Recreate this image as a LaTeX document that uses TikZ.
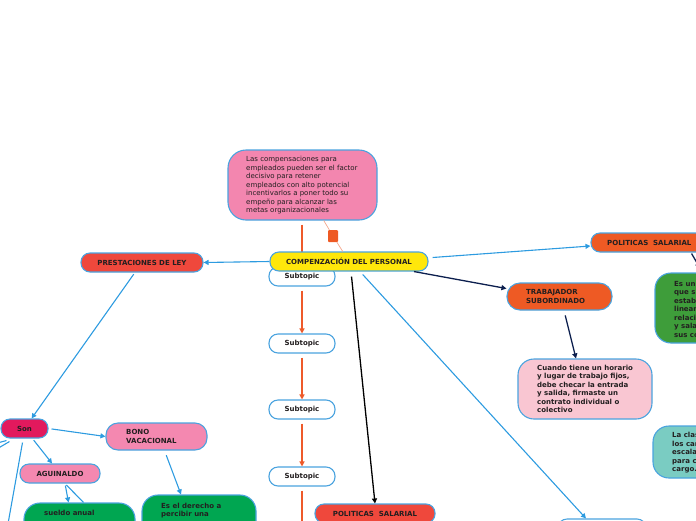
\documentclass[tikz,border=0pt]{standalone}
\usepackage{fontspec}
\setmainfont{DejaVu Sans}
\usetikzlibrary{arrows.meta,calc}
\definecolor{bdr}{HTML}{4AA3DF}
\definecolor{cblue}{HTML}{2D9BE0}
\definecolor{cnavy}{HTML}{0C1F4E}
\definecolor{corl}{HTML}{EE5A2A}
\definecolor{salm}{HTML}{F4A58A}
\definecolor{notepink}{HTML}{F386AF}
\definecolor{cyellow}{HTML}{FFE70B}
\definecolor{cred}{HTML}{EF483C}
\definecolor{crimson}{HTML}{E2195D}
\definecolor{bpink}{HTML}{F488B0}
\definecolor{corange}{HTML}{EE5A24}
\definecolor{cgreen}{HTML}{00A651}
\definecolor{dgreen}{HTML}{3E9D3A}
\definecolor{cteal}{HTML}{7ACCC2}
\definecolor{lpink}{HTML}{F9C6D2}
\definecolor{txt}{HTML}{231F20}
\tikzset{
  box/.style={draw=bdr, line width=1.1pt, rounded corners=#1, inner sep=0pt, text=txt},
  box/.default=9,
  ft/.style={font=\fontsize{7}{8.5}\selectfont},
  bft/.style={font=\fontsize{7}{8.5}\selectfont\bfseries},
  tx/.style={anchor=west, align=left, inner sep=0pt, text=txt},
  barr/.style={draw=cblue, line width=1.1pt, -{Triangle[length=5pt,width=5pt]}},
  bline/.style={draw=cblue, line width=1.1pt},
  narr/.style={draw=cnavy, line width=1.3pt, -{Triangle[length=5pt,width=5pt]}},
  karr/.style={draw=black, line width=1.3pt, -{Triangle[length=5pt,width=5pt]}},
  oarr/.style={draw=corl, line width=1.4pt, -{Triangle[length=5pt,width=5pt]}},
  oline/.style={draw=corl, line width=1.4pt},
  sline/.style={draw=salm, line width=0.7pt},
}
\begin{document}
\begin{tikzpicture}[x=1pt,y=-1pt]
\useasboundingbox (0,0) rectangle (696,520);
\clip (0,0) rectangle (696,520);

% top note
\node[box=18, fill=notepink, minimum width=149, minimum height=70] (note) at (302.5,185) {};
\node[tx, ft] (notet) at (246,185.5) {Las compensaciones para\\empleados pueden ser el factor\\decisivo para retener\\empleados con alto potencial\\incentivarlos a poner todo su\\empeño para alcanzar las\\metas organizacionales};
\node[fill=corange, minimum width=10, minimum height=12, inner sep=0pt, rounded corners=1pt] (sqr) at (333,236) {};

% subtopics
\foreach \i/\yy in {1/276.5,2/343.5,3/409.5,4/476.5}
  \node[box=9, fill=white, minimum width=66, minimum height=19, bft] (sub\i) at (302,\yy) {Subtopic};
\coordinate (oend) at (302,535);
\draw[oline, shorten <=4pt] (sub1.north |- note.south) -- (sub1.north);
\draw[oarr, shorten <=4pt] (sub1.south) -- (sub2.north);
\draw[oarr, shorten <=4pt] (sub2.south) -- (sub3.north);
\draw[oarr, shorten <=4pt] (sub3.south) -- (sub4.north);
\draw[oline, shorten <=4pt] (sub4.south) -- (oend);

% central
\node[box=9, fill=cyellow, minimum width=158, minimum height=19, bft] (central) at (349,261.5) {COMPENZACIÓN DEL PERSONAL};
\draw[sline] (note) -- (sqr) -- (central);

% left branch
\node[box=9, fill=cred, minimum width=122, minimum height=19, bft] (prest) at (142,262.5) {PRESTACIONES DE LEY};
\node[box=9, fill=crimson, minimum width=47, minimum height=19, bft] (son) at (24.5,428.5) {Son};
\node[box=12, fill=bpink, minimum width=101, minimum height=27] (bono) at (156.5,436.5) {};
\node[tx, bft] (bonot) at (126,436.5) {BONO\\VACACIONAL};
\node[box=9, fill=bpink, minimum width=80, minimum height=19, bft] (agui) at (60,473.5) {AGUINALDO};
\node[box=16, fill=cgreen, minimum width=111, minimum height=60] (g1) at (79.5,533) {};
\node[tx, bft] (g1t) at (44,513) {sueldo anual};
\node[box=16, fill=cgreen, minimum width=114, minimum height=60] (g2) at (199,525) {};
\node[tx, bft] (g2t) at (161,510.5) {Es el derecho a\\percibir una};

\coordinate (sl1) at (-10,453);
\coordinate (sl2) at (-14,446);
\coordinate (sl3) at (6,535);

\draw[barr] (central.west) -- (prest.east);
\draw[barr, shorten <=2pt] (prest) -- (son);
\draw[barr, shorten <=3pt] (son.east) -- (bono.west);
\draw[barr, shorten <=2pt] (son) -- (agui);
\draw[barr, shorten <=2pt] ($(agui.south)+(5,0)$) -- ($(g1.north)+(-11,0)$);
\draw[bline, shorten <=2pt] ($(agui.south)+(5,0)$) -- ($(g1.north)+(4,0)$);
\draw[barr, shorten <=5pt] ($(bono.south)+(8,0)$) -- ($(g2.north)+(-18,0)$);
\draw[bline] ($(son.south west)+(9,3)$) -- (sl1);
\draw[bline] ($(son.south west)+(6,2)$) -- (sl2);
\draw[bline] ($(son.south)+(-2,4)$) -- (sl3);

% right branch
\node[box=9, fill=corange, minimum width=119, minimum height=19] (polr) at (650.5,242.5) {};
\node[tx, bft] (polrt) at (607,242.5) {POLITICAS\ \ SALARIAL};
\node[box=16, fill=dgreen, minimum width=70, minimum height=70] (gr) at (690,308) {};
\node[tx, bft] (grt) at (674,309) {Es un documento\\que sirve para\\establecer los\\lineamientos de\\relación laboral\\y salarial con\\sus colaboradores};
\node[box=13, fill=corange, minimum width=105, minimum height=27] (trab) at (559.5,296.5) {};
\node[tx, bft] (trabt) at (526,296.5) {TRABAJADOR\\SUBORDINADO};
\node[box=16, fill=lpink, minimum width=134, minimum height=60] (pk2) at (585,389) {};
\node[tx, bft] (pk2t) at (537,389) {Cuando tiene un horario\\y lugar de trabajo fijos,\\debe checar la entrada\\y salida, firmaste un\\contrato individual o\\colectivo};
\node[box=16, fill=cteal, minimum width=70, minimum height=52] (teal) at (688,452) {};
\node[tx, bft] (tealt) at (672,452.5) {La clasificación de\\los cargos en\\escalas salariales\\para cada\\cargo.};
\node[box=9, fill=white, minimum width=88, minimum height=32] (br) at (602,535) {};
\node[box=9, fill=cred, minimum width=120, minimum height=19, bft] (polb) at (375,513.5) {POLITICAS\ \ SALARIAL};

\coordinate (nend) at (700,268);
\draw[barr] ($(central.east)+(4,-4)$) -- ($(polr.west)+(0,3.5)$);
\draw[narr] ($(polr.south east)+(-19,1)$) -- (nend);
\draw[narr] ($(central.south)+(65,0)$) -- ($(trab.west)+(0,-8)$);
\draw[narr, shorten <=5pt] ($(trab.south)+(4.5,0)$) -- ($(pk2.north)+(-9,0)$);
\draw[karr, shorten <=5pt] ($(central.south)+(2,0)$) -- (polb.north);
\draw[barr, shorten <=4pt] ($(central.south)+(11,0)$) -- ($(br.north)+(-16,0)$);
\end{tikzpicture}
\end{document}
